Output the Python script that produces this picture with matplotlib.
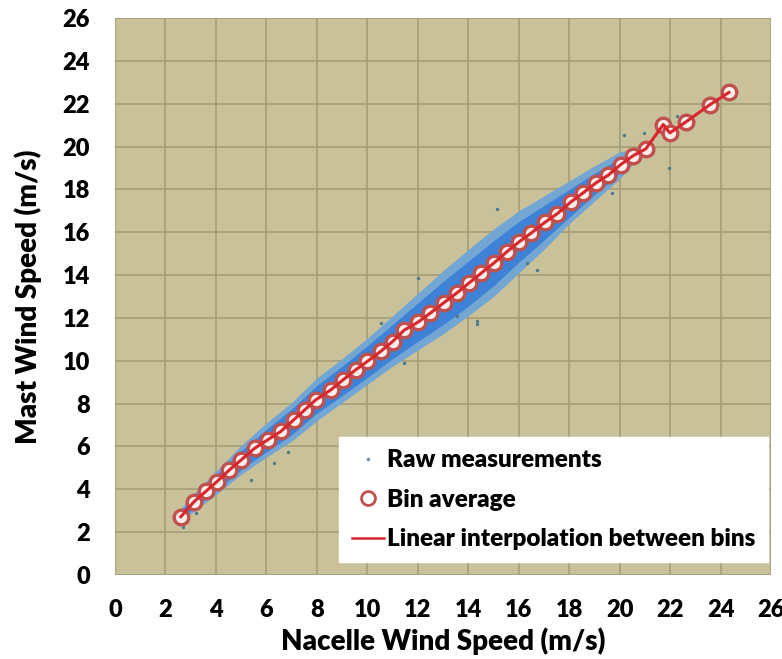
import matplotlib.pyplot as plt
from matplotlib.lines import Line2D
import numpy as np

# bin averages
bin_x = [2.61, 3.14, 3.60, 4.04, 4.53, 5.00, 5.54, 6.05, 6.57, 7.08, 7.52, 7.96,
         8.55, 9.04, 9.54, 10.00, 10.53, 11.00, 11.46, 11.99, 12.50, 13.02, 13.54,
         14.03, 14.52, 15.02, 15.52, 16.01, 16.50, 17.03, 17.53, 18.06, 18.55,
         19.05, 19.54, 20.04, 20.54, 21.03, 21.73, 21.99, 22.61, 23.58, 24.33]
bin_y = [2.72, 3.43, 3.90, 4.36, 4.90, 5.37, 5.92, 6.31, 6.70, 7.24, 7.71, 8.18,
         8.64, 9.11, 9.58, 9.97, 10.44, 10.90, 11.43, 11.79, 12.23, 12.70, 13.16,
         13.63, 14.10, 14.57, 15.08, 15.55, 15.97, 16.46, 16.87, 17.41, 17.84,
         18.30, 18.66, 19.16, 19.58, 19.89, 21.03, 20.64, 21.14, 21.96, 22.53]

# envelope of the raw-measurement cloud (outer sparse edge and dense core)
cloud_x = [2.5, 3, 4, 5, 6, 7, 8, 9, 10, 11, 12, 13, 14, 15, 16, 17, 18, 19, 20, 20.6]
outer_hi = [2.95, 3.65, 4.85, 6.05, 7.10, 8.05, 9.20, 10.10, 11.05, 12.10, 13.15,
            14.20, 15.20, 16.15, 17.00, 17.70, 18.40, 19.10, 19.75, 19.90]
outer_lo = [2.45, 2.85, 3.75, 4.70, 5.50, 6.25, 7.20, 8.05, 8.90, 9.75, 10.50,
            11.25, 12.10, 13.00, 14.10, 15.20, 16.40, 17.45, 18.50, 19.30]
core_hi = [2.85, 3.50, 4.65, 5.80, 6.80, 7.75, 8.85, 9.75, 10.70, 11.70, 12.70,
           13.70, 14.65, 15.60, 16.50, 17.25, 18.00, 18.75, 19.45, 19.75]
core_lo = [2.55, 3.00, 3.95, 4.92, 5.75, 6.55, 7.55, 8.37, 9.22, 10.10, 10.90,
           11.68, 12.55, 13.50, 14.60, 15.63, 16.70, 17.75, 18.77, 19.45]

# scattered outliers
out_x = [15.12, 14.36, 11.99, 21.95, 20.16, 22.28, 20.95, 19.71, 16.34, 6.31,
         6.84, 5.39, 2.68, 3.21, 11.46, 10.53, 13.57, 16.74, 14.36]
out_y = [17.09, 11.84, 13.86, 19.00, 20.56, 21.42, 20.65, 17.84, 14.57, 5.22,
         5.76, 4.44, 2.26, 2.91, 9.89, 11.76, 12.07, 14.25, 11.73]

ticks = np.arange(0, 27, 2)

plt.rcParams['font.family'] = ['Lato', 'DejaVu Sans']

fig = plt.figure(figsize=(7.82, 6.59), dpi=100)
ax = fig.add_axes([0.147, 0.1275, 0.839, 0.845])
ax.set_facecolor('#C8C19A')

ax.fill_between(cloud_x, outer_lo, outer_hi, color='#74A6D4', lw=0, zorder=2)
ax.fill_between(cloud_x, core_lo, core_hi, color='#3D82D6', lw=0, zorder=3)
ax.scatter(out_x, out_y, s=6, color='#4F7B8C', zorder=3, lw=0)

ax.plot(bin_x, bin_y, color='#D8262C', lw=2.2, zorder=5)
ax.plot(bin_x, bin_y, 'o', ms=10.5, mfc='#FBEDEA', mec='#C0504D', mew=2.4, zorder=4)

ax.set_xlim(0, 26)
ax.set_ylim(0, 26)
ax.set_xticks(ticks)
ax.set_yticks(ticks)
ax.grid(True, color='#A39A72', lw=1.1)
ax.set_axisbelow(True)
for s in ax.spines.values():
    s.set_visible(False)
ax.tick_params(length=0, labelsize=17, pad=18)
ax.tick_params(axis='x', pad=17)
for lab in ax.get_xticklabels() + ax.get_yticklabels():
    lab.set_fontweight('heavy')

ax.set_xlabel('Nacelle Wind Speed (m/s)', fontsize=20, fontweight='heavy', labelpad=5)
ax.set_ylabel('Mast Wind Speed (m/s)', fontsize=20, fontweight='heavy', labelpad=15)

handles = [
    Line2D([], [], ls='none', marker='.', ms=3, color='#6A8FB0'),
    Line2D([], [], ls='none', marker='o', ms=10, mfc='none', mec='#C0504D', mew=2),
    Line2D([], [], color='#D8262C', lw=1.8),
]
labels = ['Raw measurements', 'Bin average', 'Linear interpolation between bins']
leg = ax.legend(handles, labels, loc='lower right', bbox_to_anchor=(0.995, 0.023),
                prop={'size': 17.5, 'weight': 'heavy'}, frameon=True, fancybox=False,
                framealpha=1, handlelength=1.35, handletextpad=0.12, labelspacing=0.72,
                borderpad=0.5, borderaxespad=0)
leg.get_frame().set_facecolor('white')
leg.get_frame().set_edgecolor('white')

fig.savefig('out.png', dpi=100)
